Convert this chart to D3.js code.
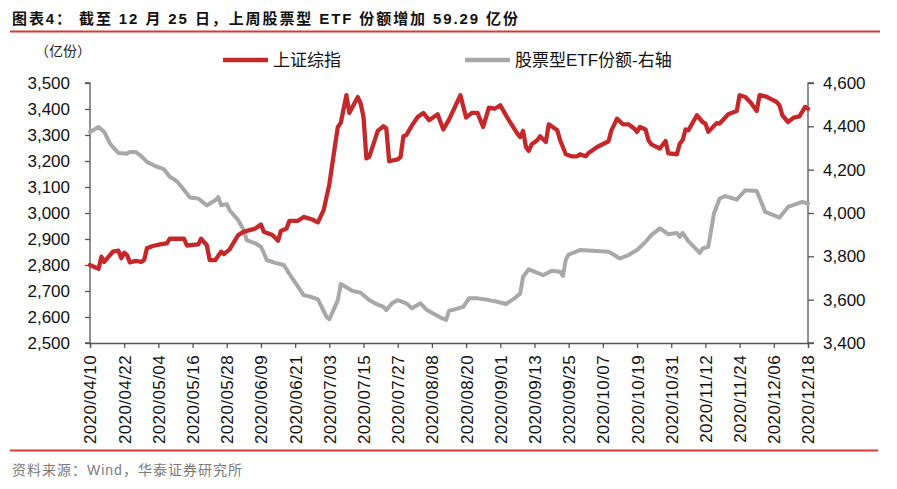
<!DOCTYPE html>
<html lang="zh">
<head>
<meta charset="UTF-8">
<title>股票型ETF份额</title>
<script src="https://cdnjs.cloudflare.com/ajax/libs/d3/7.8.5/d3.min.js"></script>
<style>
  body { margin: 0; background: #fff; }
  svg text { font-family: "Liberation Sans", "Noto Sans CJK SC", sans-serif; }
</style>
</head>
<body>
<div id="chart"></div>
<script>
// x 轴刻度（每 12 天）
const xTickLabels = ["2020/04/10","2020/04/22","2020/05/04","2020/05/16","2020/05/28","2020/06/09",
  "2020/06/21","2020/07/03","2020/07/15","2020/07/27","2020/08/08","2020/08/20","2020/09/01",
  "2020/09/13","2020/09/25","2020/10/07","2020/10/19","2020/10/31","2020/11/12","2020/11/24",
  "2020/12/06","2020/12/18"];
const leftTicks = [2500, 2600, 2700, 2800, 2900, 3000, 3100, 3200, 3300, 3400, 3500];
const rightTicks = [3400, 3600, 3800, 4000, 4200, 4400, 4600];

// 上证综指
const shDates = [
  "04-10","04-13","04-14","04-15","04-17","04-18","04-20","04-21","04-22","04-23","04-24","04-26","04-28","04-29","04-30",
  "05-02","05-05","05-07","05-08","05-10","05-13","05-14","05-18","05-19","05-21","05-22","05-24","05-26","05-27","05-29",
  "06-01","06-03","06-05","06-07","06-09","06-10","06-13","06-15","06-16","06-18","06-19","06-22","06-24","06-27","06-29",
  "07-01","07-03","07-05","07-06","07-07","07-09","07-10","07-13","07-14","07-15","07-16","07-17","07-20","07-22","07-23","07-24","07-27","07-28","07-29","07-30",
  "08-01","08-03","08-05","08-07","08-10","08-12","08-14","08-18","08-20","08-22","08-24","08-26","08-28","08-30",
  "09-01","09-04","09-07","09-08","09-09","09-10","09-11","09-12","09-14","09-15","09-17","09-18","09-21","09-22","09-24","09-26","09-28","09-29",
  "10-01","10-02","10-05","10-09","10-10","10-12","10-14","10-16","10-18","10-19","10-20","10-22","10-23","10-24","10-27","10-29","10-30",
  "11-02","11-03","11-04","11-05","11-06","11-09","11-11","11-12","11-13","11-16","11-17","11-20","11-23","11-24","11-26","11-28","11-30",
  "12-01","12-03","12-04","12-07","12-08","12-09","12-11","12-13","12-15","12-17","12-18"];
const shValues = [
  2800,2785,2832,2812,2838,2851,2855,2826,2847,2838,2810,2816,2812,2819,2864,
  2873,2880,2883,2901,2901,2901,2875,2879,2901,2876,2819,2819,2851,2842,2860,
  2915,2928,2934,2940,2956,2928,2915,2893,2931,2940,2970,2970,2985,2975,2964,
  3011,3110,3260,3331,3346,3453,3385,3446,3421,3369,3210,3216,3316,3334,3325,3199,3206,3216,3295,3299,
  3337,3369,3385,3357,3380,3321,3359,3453,3367,3385,3385,3331,3405,3401,
  3414,3357,3305,3292,3316,3254,3239,3264,3280,3295,3273,3341,3318,3280,3226,3218,3218,3226,
  3218,3231,3254,3276,3318,3363,3341,3341,3325,3312,3331,3321,3280,3264,3248,3277,3229,
  3226,3267,3280,3321,3318,3376,3350,3344,3312,3346,3344,3380,3392,3453,3446,3423,3392,
  3453,3449,3444,3427,3414,3376,3350,3367,3372,3408,3401];

// 股票型ETF份额（右轴，亿份）
const etfDates = [
  "04-10","04-13","04-15","04-17","04-19","04-20","04-23","04-24","04-26","04-28","04-30",
  "05-03","05-06","05-08","05-10","05-11","05-14","05-15","05-18","05-21","05-24","05-25","05-26","05-28","05-29",
  "06-01","06-03","06-04","06-07","06-09","06-10","06-11","06-14","06-17","06-20","06-22","06-24","06-27","06-29","06-30",
  "07-02","07-03","07-06","07-07","07-09","07-11","07-14","07-17","07-19","07-22","07-23","07-25","07-27","07-30",
  "08-01","08-04","08-06","08-08","08-11","08-12","08-13","08-14","08-16","08-19","08-21","08-24","08-28","08-31",
  "09-03","09-06","09-08","09-09","09-11","09-16","09-19","09-22","09-23","09-24","09-25","09-29",
  "10-09","10-11","10-13","10-16","10-19","10-22","10-24","10-27","10-30",
  "11-02","11-03","11-04","11-06","11-08","11-10","11-11","11-13","11-15","11-17","11-19","11-23","11-26","11-30",
  "12-03","12-05","12-08","12-11","12-16","12-18"];
const etfValues = [
  4374,4397,4374,4321,4290,4277,4274,4282,4282,4262,4236,
  4216,4201,4167,4151,4139,4090,4072,4067,4035,4059,4074,4036,4041,4013,
  3967,3921,3875,3860,3844,3816,3783,3770,3760,3698,3660,3621,3611,3601,3575,
  3521,3509,3598,3672,3657,3641,3632,3598,3583,3567,3552,3583,3598,3583,
  3560,3583,3555,3540,3518,3512,3506,3549,3555,3567,3606,3606,3598,3590,
  3580,3606,3629,3706,3740,3713,3733,3729,3710,3785,3808,3829,
  3821,3806,3790,3806,3829,3867,3898,3929,3902,
  3908,3890,3908,3870,3844,3816,3836,3844,3998,4067,4078,4062,4105,4102,
  4005,3995,3979,4028,4051,4044];

const W = 897, H = 489;
const margin = { left: 90, right: 89, top: 83, bottom: 146 };
const red = "#c4282b", gray = "#a8a8a8", rule = "#d83a33";

const parseTick = d3.timeParse("%Y/%m/%d");
const parseDay = d3.timeParse("%Y-%m-%d");
const tickDates = xTickLabels.map(parseTick);

const svg = d3.select("#chart").append("svg")
  .attr("width", W).attr("height", H);

const x = d3.scaleTime()
  .domain([tickDates[0], tickDates[tickDates.length - 1]])
  .range([margin.left, W - margin.right]);
const yL = d3.scaleLinear().domain([2500, 3500]).range([H - margin.bottom, margin.top]);
const yR = d3.scaleLinear().domain([3400, 4600]).range([H - margin.bottom, margin.top]);

// 标题
svg.append("text")
  .attr("x", 12).attr("y", 24)
  .attr("font-size", 15).attr("font-weight", "bold").attr("fill", "#111")
  .attr("textLength", 506).attr("lengthAdjust", "spacing")
  .text("图表4：  截至 12 月 25 日，上周股票型 ETF 份额增加 59.29 亿份");
svg.append("line").attr("x1", 10).attr("x2", 880).attr("y1", 31.5).attr("y2", 31.5)
  .attr("stroke", rule).attr("stroke-width", 2);

// 单位
svg.append("text").attr("x", 35).attr("y", 56)
  .attr("font-size", 14).attr("fill", "#222").text("（亿份）");

// 图例
const legend = [
  { name: "上证综指", color: red, x: 223 },
  { name: "股票型ETF份额-右轴", color: gray, x: 465 }
];
legend.forEach(l => {
  svg.append("line").attr("x1", l.x).attr("x2", l.x + 45).attr("y1", 60).attr("y2", 60)
    .attr("stroke", l.color).attr("stroke-width", 4.5);
  svg.append("text").attr("x", l.x + 50).attr("y", 60).attr("dy", "0.35em")
    .attr("font-size", 17).attr("fill", "#111").text(l.name);
});

// 坐标轴
const fmt = d3.format(",");
const gL = svg.append("g").attr("transform", `translate(${margin.left},0)`)
  .call(d3.axisLeft(yL).tickValues(leftTicks).tickFormat(fmt).tickSize(5).tickPadding(15));
const gR = svg.append("g").attr("transform", `translate(${W - margin.right},0)`)
  .call(d3.axisRight(yR).tickValues(rightTicks).tickFormat(fmt).tickSize(6).tickPadding(9));
const gX = svg.append("g").attr("transform", `translate(0,${H - margin.bottom})`)
  .call(d3.axisBottom(x).tickValues(tickDates).tickFormat((d, i) => xTickLabels[i]).tickSizeOuter(0).tickSize(5));

[gL, gR, gX].forEach(g => {
  g.select(".domain").attr("stroke", "#555").attr("stroke-width", 1.3);
  g.selectAll(".tick line").attr("stroke", "#555").attr("stroke-width", 1.3);
  g.selectAll("text").attr("font-size", 17).attr("fill", "#111")
    .attr("font-family", "'Liberation Sans', Arial, sans-serif");
});
gL.select(".domain").attr("d", `M-5,${yL(3500)}H0V${yL(2500)}H-5`);
gR.select(".domain").attr("d", `M6,${yR(4600)}H0V${yR(3400)}H6`);

gX.selectAll(".tick text")
  .attr("transform", "rotate(-90)")
  .attr("x", -12).attr("y", 0).attr("dy", "0.35em")
  .attr("text-anchor", "end")
  .attr("letter-spacing", 0.4);

// 折线
const shData = shDates.map((d, i) => ({ date: parseDay("2020-" + d), v: shValues[i] }));
const etfData = etfDates.map((d, i) => ({ date: parseDay("2020-" + d), v: etfValues[i] }));

svg.append("path").datum(etfData)
  .attr("fill", "none").attr("stroke", gray).attr("stroke-width", 4)
  .attr("stroke-linejoin", "round").attr("stroke-linecap", "round")
  .attr("d", d3.line().x(d => x(d.date)).y(d => yR(d.v)));

svg.append("path").datum(shData)
  .attr("fill", "none").attr("stroke", red).attr("stroke-width", 4.3)
  .attr("stroke-linejoin", "round").attr("stroke-linecap", "round")
  .attr("d", d3.line().x(d => x(d.date)).y(d => yL(d.v)));

// 底部分隔线与来源
svg.append("line").attr("x1", 10).attr("x2", 878).attr("y1", 450.5).attr("y2", 450.5)
  .attr("stroke", rule).attr("stroke-width", 2);
svg.append("text").attr("x", 12).attr("y", 475)
  .attr("font-size", 14).attr("fill", "#7a7a7a").attr("letter-spacing", 1)
  .text("资料来源：Wind，华泰证券研究所");
</script>
</body>
</html>
